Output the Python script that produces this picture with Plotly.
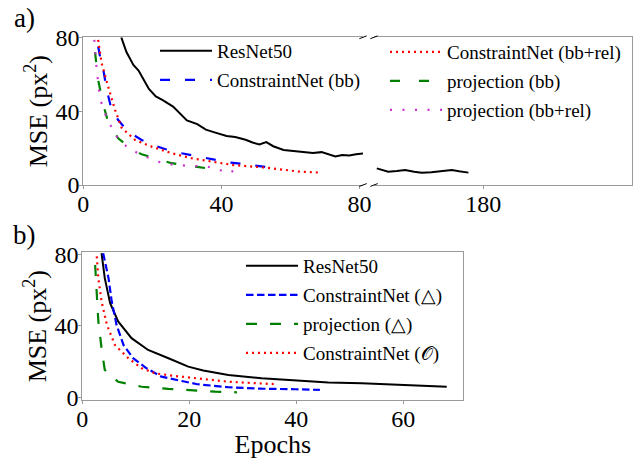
import plotly.graph_objects as go

# ---------------- data: panel a ----------------
resnet_a_x = [11, 12.5, 14.5, 16, 17.5, 19, 21, 23, 26, 28, 30, 33, 35.5, 38, 41.5, 44, 47, 49, 51, 53, 55, 58, 61, 64, 66.5, 69, 71, 73, 75, 77, 79, 81]
resnet_a_y = [80, 72, 65, 62, 57, 52, 48, 46, 42.5, 39, 35, 33, 30, 28.5, 26.5, 26, 24.5, 23, 22, 23.2, 21, 19, 18.5, 18, 17.3, 17.8, 16.8, 15.4, 16.2, 16, 16.6, 17]
resnet_a2_x = [149.2, 151, 152.5, 155, 157.4, 160, 162.2, 165, 167, 169, 170.9, 173, 175.7]
resnet_a2_y = [9, 8, 7.2, 7.6, 8.1, 7.2, 6.7, 6.9, 7.2, 7.8, 8.1, 7.4, 6.7]

cnet_bb_x = [4.3, 5, 5.8, 6.8, 8.2, 10.1, 13, 16.9, 20.2, 23.6, 28.5, 33.3, 37.1, 41.9, 47.2, 52, 53.5]
cnet_bb_y = [75, 68, 62.3, 51.5, 40.7, 35.2, 28.9, 24.4, 21.7, 19.5, 17.2, 15.3, 14.1, 12.3, 11.2, 9.9, 9.6]

cnet_bbrel_x = [4.3, 5.3, 7.2, 9.2, 11.1, 15, 19.8, 25.6, 31.3, 38.1, 43.4, 53, 62.7, 68.9]
cnet_bbrel_y = [78.6, 66, 53.3, 40.7, 31, 24.4, 20.8, 17.2, 14.5, 12.4, 10.8, 9.4, 7.2, 6.7]

proj_bb_x = [3.4, 4.3, 5.8, 7.3, 10.1, 13, 16.9, 20.7, 25.6, 29, 33.3, 36, 38.6]
proj_bb_y = [72, 56.9, 43.4, 33.4, 25.3, 20.8, 16.6, 14.5, 11.8, 10.8, 9.9, 9, 7.2]

proj_bbrel_x = [3.2, 3.9, 4.8, 6.8, 9.7, 13, 16.9, 21.7, 26.5, 31.3, 36, 39, 41.9, 44.4, 46.3]
proj_bbrel_y = [78.6, 62.3, 47, 36.1, 26.2, 19.9, 16.3, 12.6, 10.8, 10.3, 9.9, 8.5, 6.3, 8.5, 8.1]

# ---------------- data: panel b ----------------
resnet_b_x = [3.6, 4.2, 5.2, 6.7, 9.2, 12.3, 16.1, 19.8, 22.6, 27.3, 33.5, 39.8, 46, 52.2, 58.5, 64.7, 68.1]
resnet_b_y = [80.6, 66.7, 52.7, 42.5, 33.2, 26.6, 22, 17.3, 15.2, 12.7, 10.8, 9.5, 8.4, 8, 7.1, 6.5, 6.1]

cnet_tri_x = [3.9, 4.9, 5.5, 6.4, 7.7, 9.5, 12, 14.8, 18.6, 21.5, 27.3, 33.5, 39.8, 44.4]
cnet_tri_y = [80.6, 66.7, 53.6, 40.6, 29.4, 22, 16.4, 11.7, 9.3, 7.5, 5.8, 5.0, 4.7, 4.3]

proj_tri_x = [2.4, 2.7, 3.0, 3.6, 4.2, 6.7, 11.1, 16.1, 20.4, 24.8, 28.9]
proj_tri_y = [74, 59.2, 42.5, 27.6, 15.5, 8.9, 6.1, 4.9, 4.1, 3.4, 3.0]

cnet_o_x = [2.7, 3.0, 3.6, 4.6, 6.1, 8.6, 11.1, 13.6, 17.3, 22.3, 27.3, 33.5, 35.8]
cnet_o_y = [78.8, 66.7, 53.6, 40.6, 29.4, 22, 16.4, 13.6, 12.1, 10.5, 8.9, 7.9, 7.6]

ticks_a_left = [0, 40, 80]
ticks_a_right = [180]
ticks_a_y = [0, 40, 80]
ticks_b_x = [0, 20, 40, 60]
ticks_b_y = [0, 40, 80]

W, H = 641, 459
FONT = "Liberation Serif"
SPINE = "#9a9a9a"


def px_x(p):
    return p / W


def px_y(p):
    return 1 - p / H


fig = go.Figure()

# panel a, left
fig.add_trace(go.Scatter(x=resnet_a_x, y=resnet_a_y, xaxis="x", yaxis="y", mode="lines",
                         name="ResNet50", legend="legend", legendgroup="a1",
                         line=dict(color="black", width=2)))
fig.add_trace(go.Scatter(x=cnet_bb_x, y=cnet_bb_y, xaxis="x", yaxis="y", mode="lines",
                         name="ConstraintNet (bb)", legend="legend", legendgroup="a2",
                         line=dict(color="blue", width=2.2, dash="10px,15px")))
fig.add_trace(go.Scatter(x=cnet_bbrel_x, y=cnet_bbrel_y, xaxis="x", yaxis="y", mode="lines",
                         name="ConstraintNet (bb+rel)", legend="legend2", legendgroup="a3",
                         line=dict(color="red", width=2.2, dash="2px,4px")))
fig.add_trace(go.Scatter(x=proj_bb_x, y=proj_bb_y, xaxis="x", yaxis="y", mode="lines",
                         name="projection (bb)", legend="legend2", legendgroup="a4",
                         line=dict(color="green", width=2.2, dash="10px,19px")))
fig.add_trace(go.Scatter(x=proj_bbrel_x, y=proj_bbrel_y, xaxis="x", yaxis="y", mode="lines",
                         name="projection (bb+rel)", legend="legend2", legendgroup="a5",
                         line=dict(color="#cc33cc", width=2.2, dash="2px,10.5px")))
# panel a, right
fig.add_trace(go.Scatter(x=resnet_a2_x, y=resnet_a2_y, xaxis="x2", yaxis="y2", mode="lines",
                         showlegend=False, line=dict(color="black", width=2)))

# panel b
fig.add_trace(go.Scatter(x=resnet_b_x, y=resnet_b_y, xaxis="x3", yaxis="y3", mode="lines",
                         name="ResNet50", legend="legend3", legendgroup="b1",
                         line=dict(color="black", width=2)))
fig.add_trace(go.Scatter(x=cnet_tri_x, y=cnet_tri_y, xaxis="x3", yaxis="y3", mode="lines",
                         name="ConstraintNet (△)", legend="legend3", legendgroup="b2",
                         line=dict(color="blue", width=2.2, dash="7.5px,3.5px")))
fig.add_trace(go.Scatter(x=proj_tri_x, y=proj_tri_y, xaxis="x3", yaxis="y3", mode="lines",
                         name="projection (△)", legend="legend3", legendgroup="b3",
                         line=dict(color="green", width=2.2, dash="11px,13px")))
fig.add_trace(go.Scatter(x=cnet_o_x, y=cnet_o_y, xaxis="x3", yaxis="y3", mode="lines",
                         name="ConstraintNet (𝒪)", legend="legend3", legendgroup="b4",
                         line=dict(color="red", width=2.2, dash="2px,4px")))

tickfont = dict(family=FONT, size=24, color="black")
axis_common = dict(showgrid=False, zeroline=False, showline=True, linecolor=SPINE, linewidth=1.2,
                   ticks="outside", ticklen=3, tickcolor=SPINE, tickfont=tickfont, fixedrange=True,
                   automargin=False)
xstand = -6
ystand = -5

yA = [px_y(185), px_y(37.3)]
yB = [px_y(400), px_y(252.3)]

leg_font = dict(family=FONT, size=19, color="black")
leg_common = dict(font=leg_font, bgcolor="rgba(0,0,0,0)", borderwidth=0, itemwidth=52,
                  tracegroupgap=1.3, xanchor="left", yanchor="top", itemclick=False)

title_font = dict(family=FONT, size=26, color="black")

fig.update_layout(
    width=W, height=H, margin=dict(l=0, r=0, t=0, b=0, autoexpand=False),
    paper_bgcolor="white", plot_bgcolor="white",
    font=dict(family=FONT, color="black"),
    xaxis=dict(axis_common, domain=[px_x(83.3), px_x(363)], range=[0, 81], tickvals=ticks_a_left,
               anchor="y", mirror=True, ticklabelstandoff=xstand),
    xaxis2=dict(axis_common, domain=[px_x(374), px_x(632)], range=[148.4, 223], tickvals=ticks_a_right,
                anchor="y2", mirror=True, ticklabelstandoff=xstand),
    yaxis=dict(axis_common, domain=yA, range=[0, 80], tickvals=ticks_a_y, anchor="x",
               ticklabelstandoff=ystand,
               title=dict(text="MSE (px<sup>2</sup>)", font=title_font, standoff=0)),
    yaxis2=dict(axis_common, domain=yA, range=[0, 80], anchor="x2", side="right",
                ticks="", showticklabels=False),
    xaxis3=dict(axis_common, domain=[px_x(82.3), px_x(463.3)], range=[0, 71.2], tickvals=ticks_b_x,
                anchor="y3", mirror=True, ticklabelstandoff=xstand,
                title=dict(text="Epochs", font=title_font, standoff=8)),
    yaxis3=dict(axis_common, domain=yB, range=[-1.3, 81.1], tickvals=ticks_b_y, anchor="x3", mirror=True,
                ticklabelstandoff=ystand,
                title=dict(text="MSE (px<sup>2</sup>)", font=title_font, standoff=0)),
    legend=dict(leg_common, x=px_x(155), y=px_y(32)),
    legend2=dict(leg_common, x=px_x(385), y=px_y(33)),
    legend3=dict(leg_common, x=px_x(241), y=px_y(247)),
    showlegend=True,
)

# panel labels
fig.add_annotation(text="a)", x=px_x(24), y=px_y(18), xref="paper", yref="paper", showarrow=False,
                   xanchor="center", yanchor="middle", font=dict(family=FONT, size=27, color="black"))
fig.add_annotation(text="b)", x=px_x(24), y=px_y(235), xref="paper", yref="paper", showarrow=False,
                   xanchor="center", yanchor="middle", font=dict(family=FONT, size=27, color="black"))

# axis break marks
for cx in (363, 374):
    for cy in (37.3, 185):
        fig.add_shape(type="line", xref="paper", yref="paper",
                      x0=px_x(cx - 3.7), y0=px_y(cy + 1.4), x1=px_x(cx + 3.7), y1=px_y(cy - 1.4),
                      line=dict(color="black", width=1))

fig.write_html("out.html", config={"displayModeBar": False},
               post_script="document.body.style.margin='0';document.body.style.overflow='hidden';")
